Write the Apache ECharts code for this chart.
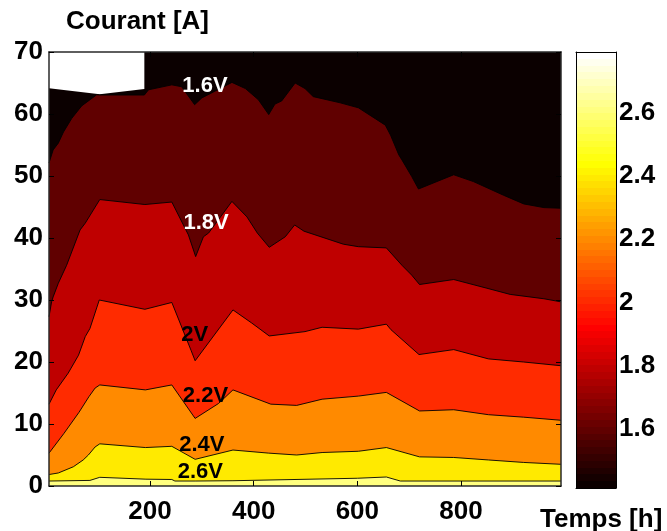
<!DOCTYPE html>
<html>
<head>
<meta charset="utf-8">
<script src="https://cdn.jsdelivr.net/npm/echarts@6/dist/echarts.min.js"></script>
<style>
  html, body { margin: 0; padding: 0; background: #fff; }
  #chart { width: 667px; height: 531px; }
</style>
</head>
<body>
<div id="chart"></div>
<script>
// Axis ticks
const xTicks = [200, 400, 600, 800];
const cbTicks = [1.6, 1.8, 2, 2.2, 2.4, 2.6];
const xRange = [5, 993];
const yRange = [0, 70];
const cbRange = [1.414, 2.791];

// Upper limit of measured data (no data above it)
const topX = [5, 103, 189, 189, 993];
const topY = [64.15, 63.18, 64.03, 70, 70];

// Iso-voltage lines: current [A] versus time [h]
const c16X = [5, 13, 23, 33, 49, 68, 97, 103, 189, 197, 242, 261, 286, 300, 358, 384, 409, 429, 441, 454, 480, 499, 515, 567, 602, 654, 664, 680, 686, 705, 718, 786, 824, 882, 921, 960, 993];
const c16Y = [52.1, 54.2, 55.3, 57.1, 59.3, 61.3, 63.1, 63.06, 63.06, 63.9, 64.7, 64.4, 61.5, 62.6, 65.1, 64.1, 62.3, 59.9, 61.6, 62.1, 65.0, 64.1, 62.8, 61.8, 61.0, 58.2, 56.6, 53.4, 52.6, 49.9, 47.9, 50.2, 49.1, 46.9, 45.5, 44.9, 44.8];

const c18X = [5, 10, 13, 23, 39, 65, 75, 103, 190, 242, 274, 288, 303, 313, 358, 387, 407, 430, 461, 479, 497, 573, 602, 656, 686, 705, 720, 786, 850, 895, 960, 993];
const c18Y = [27.3, 29.7, 30.5, 32.7, 35.6, 41.3, 42.4, 46.2, 45.4, 45.8, 40.5, 37.0, 40.2, 40.8, 45.9, 43.4, 40.8, 38.5, 40.2, 42.1, 41.1, 39.0, 38.6, 38.4, 35.6, 34.0, 32.5, 33.3, 31.9, 30.9, 30.2, 29.7];

const c20X = [5, 19, 42, 62, 75, 84, 102, 190, 242, 279, 287, 360, 396, 430, 499, 532, 602, 656, 665, 719, 786, 853, 921, 993];
const c20Y = [13.2, 15.5, 18.2, 21.1, 24.1, 25.4, 30.0, 28.5, 29.6, 21.9, 20.2, 28.4, 26.3, 24.2, 24.9, 25.6, 25.3, 26.1, 25.2, 21.2, 22.0, 20.5, 20.0, 19.4];

const c22X = [5, 34, 63, 82, 94, 103, 191, 242, 287, 332, 360, 433, 483, 532, 602, 656, 720, 786, 853, 921, 993];
const c22Y = [5.3, 8.5, 11.9, 14.4, 15.8, 16.3, 15.5, 16.3, 10.9, 13.3, 15.5, 13.2, 13.0, 14.0, 14.5, 15.1, 12.1, 12.3, 11.5, 11.1, 10.6];

const c24X = [5, 23, 52, 71, 81, 94, 103, 191, 242, 287, 360, 429, 483, 532, 602, 656, 720, 786, 853, 921, 993];
const c24Y = [1.85, 2.1, 3.1, 4.2, 5.0, 6.3, 6.8, 6.2, 6.4, 4.3, 5.8, 5.3, 5.0, 5.4, 5.6, 6.2, 4.7, 4.6, 4.2, 3.8, 3.5];

const c26X = [5, 84, 103, 192, 242, 248, 287, 360, 600, 656, 683, 993];
const c26Y = [0.8, 0.9, 1.4, 1.1, 1.05, 0.8, 0.8, 0.85, 1.25, 1.45, 0.8, 0.8];

// Contour labels
const labelText = ['1.6V', '1.8V', '2V', '2.2V', '2.4V', '2.6V'];
const labelX = [306, 308, 286, 307, 300, 297];
const labelY = [64.5, 42.5, 24.3, 14.6, 6.6, 2.3];

const FONT = '"Liberation Sans", Arial, Helvetica, sans-serif';
const AX = '#2a2a2a';

// "hot" colour map, 64 steps
function hotIndex(i) {
  const r = Math.min(1, i / 24);
  const g = Math.max(0, Math.min(1, (i - 24) / 24));
  const b = Math.max(0, Math.min(1, (i - 48) / 16));
  const h = v => Math.round(v * 255).toString(16).padStart(2, '0');
  return '#' + h(r) + h(g) + h(b);
}
function levelColor(v) {
  const t = (v - cbRange[0]) / (cbRange[1] - cbRange[0]);
  const i = Math.max(1, Math.min(64, Math.floor(t * 64) + 1));
  return hotIndex(i);
}
const cbStops = [];
for (let i = 0; i < 64; i++) {
  const c = hotIndex(i + 1);
  cbStops.push({ offset: i / 64, color: c }, { offset: (i + 1) / 64, color: c });
}

const pairs = (xs, ys) => xs.map((x, i) => [x, ys[i]]);
const bands = [
  { x: topX, y: topY, color: levelColor(cbRange[0]), line: 0 },
  { x: c16X, y: c16Y, color: levelColor(1.6), line: 0.9 },
  { x: c18X, y: c18Y, color: levelColor(1.8), line: 0.9 },
  { x: c20X, y: c20Y, color: levelColor(2.0), line: 0.9 },
  { x: c22X, y: c22Y, color: levelColor(2.2), line: 0.9 },
  { x: c24X, y: c24Y, color: levelColor(2.4), line: 0.9 },
  { x: c26X, y: c26Y, color: levelColor(2.6), line: 0.9 }
];

const tickLabel = { fontSize: 26, fontWeight: 'bold', color: '#000', fontFamily: FONT };
const axLine = { show: true, onZero: false, lineStyle: { color: AX, width: 1.5 } };
const tickStyle = { color: '#000', width: 1 };

const series = bands.map(b => ({
  type: 'line',
  xAxisIndex: 0, yAxisIndex: 0,
  data: pairs(b.x, b.y),
  symbol: 'none',
  silent: true,
  lineStyle: { color: '#000', width: b.line, opacity: b.line ? 1 : 0 },
  areaStyle: { color: b.color, opacity: 1, origin: 'start' }
}));

series.push({
  type: 'scatter',
  xAxisIndex: 0, yAxisIndex: 0,
  symbolSize: 0,
  z: 6,
  silent: true,
  itemStyle: { opacity: 1 },
  data: labelText.map((t, i) => ({
    name: t,
    value: [labelX[i], labelY[i]],
    label: { color: i < 2 ? '#fff' : '#000' }
  })),
  label: {
    show: true, position: 'inside', formatter: '{b}', opacity: 1,
    fontSize: 22, fontWeight: 'bold', fontFamily: FONT
  }
});

// Colour bar: a stacked bar whose visible part spans the colour range
series.push({
  type: 'bar', xAxisIndex: 2, yAxisIndex: 3, stack: 'cb',
  barWidth: '100%', silent: true,
  data: [cbRange[0]], itemStyle: { color: 'rgba(0,0,0,0)' }
});
series.push({
  type: 'bar', xAxisIndex: 2, yAxisIndex: 3, stack: 'cb',
  barWidth: '100%', silent: true,
  data: [cbRange[1] - cbRange[0]],
  itemStyle: { color: { type: 'linear', x: 0, y: 1, x2: 0, y2: 0, colorStops: cbStops } }
});

const option = {
  animation: false,
  backgroundColor: '#fff',
  title: [
    { text: 'Courant [A]', left: 66, top: 9, padding: 0, textStyle: tickLabel },
    { text: 'Temps [h]', left: 540, top: 507, padding: 0, textStyle: tickLabel }
  ],
  grid: [
    { left: 49, top: 52, width: 512, height: 434 },
    { left: 576, top: 52, width: 40, height: 436 }
  ],
  xAxis: [
    {
      gridIndex: 0, type: 'value', min: xRange[0], max: xRange[1], position: 'bottom', z: 10,
      axisLine: axLine,
      axisTick: { inside: true, length: 5, customValues: xTicks, lineStyle: tickStyle },
      axisLabel: Object.assign({ customValues: xTicks, margin: 13 }, tickLabel),
      splitLine: { show: false }
    },
    {
      gridIndex: 0, type: 'value', min: xRange[0], max: xRange[1], position: 'top', z: 10,
      axisLine: axLine,
      axisTick: { inside: true, length: 5, customValues: xTicks, lineStyle: tickStyle },
      axisLabel: { show: false },
      splitLine: { show: false }
    },
    {
      gridIndex: 1, type: 'category', data: [''], position: 'bottom', z: 10,
      axisLine: { show: true, lineStyle: { color: '#000', width: 1 } },
      axisTick: { show: false }, axisLabel: { show: false }, splitLine: { show: false }
    },
    {
      gridIndex: 1, type: 'category', data: [''], position: 'top', z: 10,
      axisLine: { show: true, lineStyle: { color: '#000', width: 1 } },
      axisTick: { show: false }, axisLabel: { show: false }, splitLine: { show: false }
    }
  ],
  yAxis: [
    {
      gridIndex: 0, type: 'value', min: yRange[0], max: yRange[1], interval: 10, position: 'left', z: 10,
      axisLine: axLine,
      axisTick: { inside: true, length: 5, lineStyle: tickStyle },
      axisLabel: Object.assign({ margin: 6 }, tickLabel),
      splitLine: { show: false }
    },
    {
      gridIndex: 0, type: 'value', min: yRange[0], max: yRange[1], interval: 10, position: 'right', z: 10,
      axisLine: axLine,
      axisTick: { inside: true, length: 5, lineStyle: tickStyle },
      axisLabel: { show: false },
      splitLine: { show: false }
    },
    {
      gridIndex: 1, type: 'value', min: cbRange[0], max: cbRange[1], position: 'left', z: 10,
      axisLine: { show: true, onZero: false, lineStyle: { color: '#000', width: 1 } },
      axisTick: { inside: true, length: 4, customValues: cbTicks, lineStyle: tickStyle },
      axisLabel: { show: false },
      splitLine: { show: false }
    },
    {
      gridIndex: 1, type: 'value', min: cbRange[0], max: cbRange[1], position: 'right', z: 10,
      axisLine: { show: true, onZero: false, lineStyle: { color: '#000', width: 1 } },
      axisTick: { inside: true, length: 4, customValues: cbTicks, lineStyle: tickStyle },
      axisLabel: Object.assign({ customValues: cbTicks, margin: 3, formatter: v => String(+(+v).toFixed(1)) }, tickLabel),
      splitLine: { show: false }
    }
  ],
  series: series
};

const chart = echarts.init(document.getElementById('chart'), null, { renderer: 'canvas' });
chart.setOption(option);
</script>
</body>
</html>
